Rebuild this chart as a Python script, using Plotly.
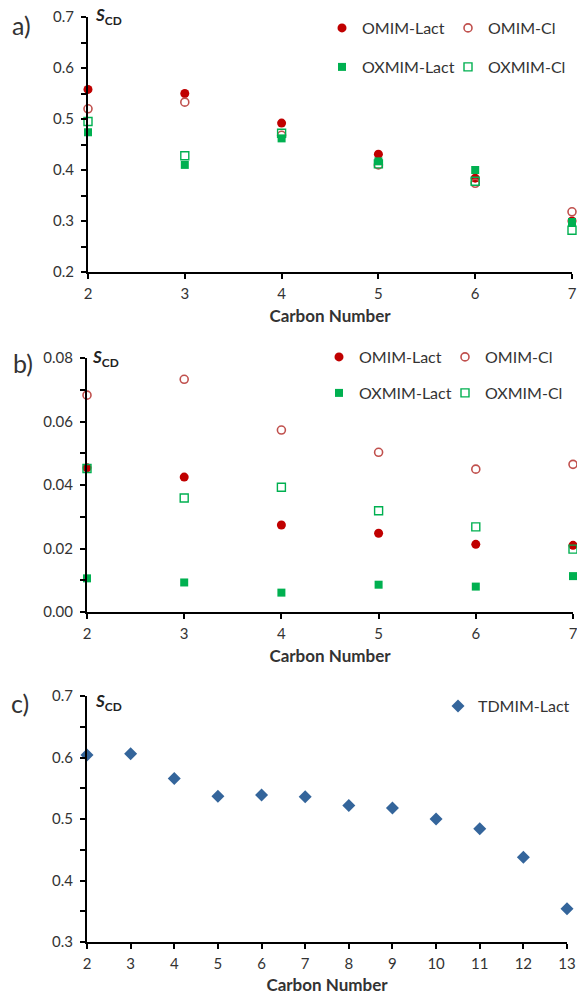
import plotly.graph_objects as go

W, H = 577, 995

# ---------------- data ----------------
carbon_ab = [2, 3, 4, 5, 6, 7]
a_omim_lact = [0.558, 0.550, 0.492, 0.431, 0.384, 0.300]
a_omim_cl = [0.520, 0.533, 0.468, 0.410, 0.374, 0.318]
a_oxmim_lact = [0.474, 0.410, 0.462, 0.417, 0.400, 0.298]
a_oxmim_cl = [0.495, 0.428, 0.472, 0.412, 0.378, 0.282]

b_omim_lact = [0.0454, 0.0425, 0.0274, 0.0248, 0.0213, 0.0210]
b_omim_cl = [0.0683, 0.0733, 0.0573, 0.0503, 0.0450, 0.0465]
b_oxmim_lact = [0.0106, 0.0093, 0.0061, 0.0086, 0.0080, 0.0113]
b_oxmim_cl = [0.0452, 0.0359, 0.0393, 0.0319, 0.0268, 0.0198]

carbon_c = [2, 3, 4, 5, 6, 7, 8, 9, 10, 11, 12, 13]
c_tdmim_lact = [0.604, 0.606, 0.566, 0.537, 0.539, 0.536, 0.522, 0.518, 0.500, 0.484, 0.438, 0.354]

names = ["OMIM-Lact", "OMIM-Cl", "OXMIM-Lact", "OXMIM-Cl", "TDMIM-Lact"]
panel_labels = ["a)", "b)", "c)"]
x_title = "Carbon Number"

# ---------------- helpers ----------------
def px_x(p):
    return p / W

def px_y(p):
    return 1 - p / H

FONT = "Lato"
TXT = "#333333"
RED = "#C00000"
RED_OPEN = "#C0504D"
GREEN = "#00B050"
BLUE = "#34659B"

styles = {
    "OMIM-Lact": dict(symbol="circle", size=9, color=RED, line=dict(width=0)),
    "OMIM-Cl": dict(symbol="circle-open", size=8, color=RED_OPEN, line=dict(width=1.6, color=RED_OPEN)),
    "OXMIM-Lact": dict(symbol="square", size=8, color=GREEN, line=dict(width=0)),
    "OXMIM-Cl": dict(symbol="square-open", size=8, color=GREEN, line=dict(width=1.4, color=GREEN)),
    "TDMIM-Lact": dict(symbol="diamond", size=10, color=BLUE, line=dict(width=0)),
}

fig = go.Figure()

def add(xs, ys, name, xa, ya, legend):
    fig.add_trace(go.Scatter(
        x=xs, y=ys, name=name, mode="markers", marker=styles[name],
        xaxis=xa, yaxis=ya, legend=legend, cliponaxis=False,
    ))

# panel a
add(carbon_ab, a_omim_lact, names[0], "x", "y", "legend")
add(carbon_ab, a_omim_cl, names[1], "x", "y", "legend")
add(carbon_ab, a_oxmim_lact, names[2], "x", "y", "legend2")
add(carbon_ab, a_oxmim_cl, names[3], "x", "y", "legend2")
# panel b
add(carbon_ab, b_omim_lact, names[0], "x2", "y2", "legend3")
add(carbon_ab, b_omim_cl, names[1], "x2", "y2", "legend3")
add(carbon_ab, b_oxmim_lact, names[2], "x2", "y2", "legend4")
add(carbon_ab, b_oxmim_cl, names[3], "x2", "y2", "legend4")
# panel c
add(carbon_c, c_tdmim_lact, names[4], "x3", "y3", "legend5")

tickfont = dict(family=FONT, size=15, color=TXT)

def xaxis(domain, rng, anchor):
    return dict(
        domain=domain, range=rng, anchor=anchor, dtick=1, tick0=2,
        showline=True, linecolor="black", linewidth=2,
        ticks="outside", ticklen=5, tickwidth=1.5, tickcolor="black",
        showgrid=False, zeroline=False, tickfont=tickfont, automargin=False,
        ticklabeloverflow="allow", ticklabelstandoff=2,
        title=dict(text="<b>" + x_title + "</b>", font=dict(family=FONT, size=17, color=TXT), standoff=9),
    )

def yaxis(domain, rng, anchor, dtick, minor, fmt):
    return dict(
        domain=domain, range=rng, anchor=anchor, dtick=dtick, tick0=0,
        showline=True, linecolor="black", linewidth=2,
        ticks="outside", ticklen=5, tickwidth=1.5, tickcolor="black",
        minor=dict(ticks="outside", ticklen=5, tickwidth=1.5, tickcolor="black", dtick=minor, showgrid=False),
        showgrid=False, zeroline=False, tickfont=tickfont, tickformat=fmt, automargin=False,
        ticklabelstandoff=4, ticklabeloverflow="allow",
    )

fig.update_layout(
    width=W, height=H, template="none",
    margin=dict(l=0, r=0, t=0, b=0),
    paper_bgcolor="white", plot_bgcolor="white",
    font=dict(family=FONT, color=TXT),
    xaxis=xaxis([px_x(88), px_x(572)], [2, 7], "y"),
    yaxis=yaxis([px_y(272), px_y(17)], [0.2, 0.7], "x", 0.1, 0.05, ".1f"),
    xaxis2=xaxis([px_x(87), px_x(573)], [2, 7], "y2"),
    yaxis2=yaxis([px_y(612), px_y(358)], [0, 0.08], "x2", 0.02, 0.01, ".2f"),
    xaxis3=xaxis([px_x(87), px_x(567)], [2, 13], "y3"),
    yaxis3=yaxis([px_y(942), px_y(696)], [0.3, 0.7], "x3", 0.1, 0.05, ".1f"),
    showlegend=True,
)

legfont = dict(family=FONT, size=16, color=TXT)

def leg(xp, yp, ew=81):
    return dict(x=px_x(xp), y=px_y(yp), xanchor="left", yanchor="middle",
                orientation="h", font=legfont, bgcolor="rgba(0,0,0,0)",
                entrywidth=ew, entrywidthmode="pixels", itemwidth=30)

fig.update_layout(
    legend=leg(322, 28),
    legend2=leg(322, 67),
    legend3=leg(319, 357),
    legend4=leg(319, 393),
    legend5=leg(438, 706, ew=0),
)

# S_CD axis labels and panel letters
scd = "<i><b>S</b></i><sub><b>CD</b></sub>"
for (xp, yp) in [(93, 16), (90, 358), (93, 702)]:
    fig.add_annotation(x=px_x(xp), y=px_y(yp), xref="paper", yref="paper", text=scd,
                       showarrow=False, xanchor="left", yanchor="middle",
                       font=dict(family=FONT, size=17, color="#222"))
for lab, (xp, yp) in zip(panel_labels, [(21, 25), (23, 363), (20, 703)]):
    fig.add_annotation(x=px_x(xp), y=px_y(yp), xref="paper", yref="paper", text=lab,
                       showarrow=False, xanchor="center", yanchor="middle",
                       font=dict(family=FONT, size=25, color="#333"))

fig.write_html("out.html", config={"displayModeBar": False},
               post_script="document.body.style.margin='0';")
